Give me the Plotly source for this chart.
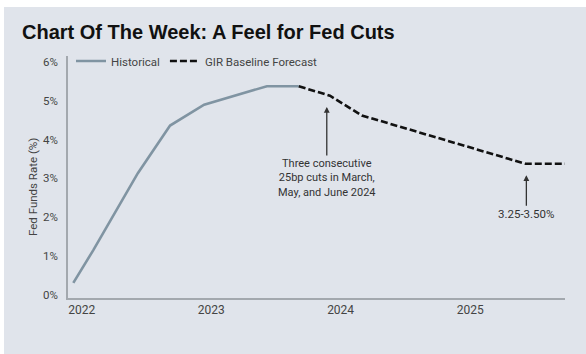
import plotly.graph_objects as go

# Data (midpoint of target range, %)
hist_dates = ["2021-12-08", "2022-02-02", "2022-06-08", "2022-09-07",
              "2022-12-12", "2023-06-07", "2023-09-05"]
hist_rate = [0.30, 1.14, 3.13, 4.36, 4.90, 5.375, 5.375]

fcst_dates = ["2023-09-05", "2023-12-02", "2024-03-01", "2025-06-05", "2025-09-25"]
fcst_rate = [5.375, 5.13, 4.62, 3.375, 3.375]

year_ticks = ["2022-01-01", "2023-01-01", "2024-01-01", "2025-01-01"]
year_labels = ["2022", "2023", "2024", "2025"]
y_ticks = [0, 1, 2, 3, 4, 5, 6]
y_labels = ["0%", "1%", "2%", "3%", "4%", "5%", "6%"]

BG = "#e0e4eb"
W, H = 586, 354
L, R, T, B = 68, 21, 56, 56
pw, ph = W - L - R, H - T - B

def px_x(p):
    return (p - L) / pw

def px_y(p):
    return (H - B - p) / ph

font_txt = "Roboto, Open Sans, sans-serif"

fig = go.Figure()
fig.add_trace(go.Scatter(x=hist_dates, y=hist_rate, mode="lines", name="Historical",
                         line=dict(color="#8094a2", width=2.6)))
fig.add_trace(go.Scatter(x=fcst_dates, y=fcst_rate, mode="lines", name="GIR Baseline Forecast",
                         line=dict(color="#111111", width=2.6, dash="7px,3px")))

fig.update_layout(
    width=W, height=H,
    margin=dict(l=L, r=R, t=T, b=B),
    paper_bgcolor=BG,
    plot_bgcolor=BG,
    title=dict(text="<b>Chart Of The Week: A Feel for Fed Cuts</b>",
               xref="container", yref="container", x=22 / W, xanchor="left",
               y=1 - 32 / H, yanchor="middle",
               font=dict(family="Liberation Sans, Arial, sans-serif", size=20, color="#111111")),
    legend=dict(orientation="h", x=px_x(71), xanchor="left", y=px_y(61), yanchor="middle",
                bgcolor="rgba(0,0,0,0)", font=dict(family=font_txt, size=11.5, color="#444444"),
                itemwidth=30, tracegroupgap=0),
    showlegend=True,
    xaxis=dict(type="date", range=["2021-11-23", "2025-09-25"],
               tickvals=year_ticks, ticktext=year_labels, showgrid=False, zeroline=False,
               showline=True, linecolor="#a3a8ae", linewidth=1.5, ticks="",
               tickfont=dict(family=font_txt, size=12, color="#444444")),
    yaxis=dict(range=[-0.09, 6.155], tickvals=y_ticks, ticktext=y_labels,
               showgrid=False, zeroline=False, showline=True, linecolor="#a3a8ae",
               linewidth=1.5, ticks="", ticklabelstandoff=6,
               tickfont=dict(family=font_txt, size=11.5, color="#444444")),
    shapes=[
        dict(type="rect", xref="paper", yref="paper", layer="below",
             x0=px_x(-5), x1=px_x(W + 5), y0=px_y(7), y1=px_y(-5),
             fillcolor="white", line=dict(width=0)),
        dict(type="rect", xref="paper", yref="paper", layer="below",
             x0=px_x(-5), x1=px_x(4), y0=px_y(H + 5), y1=px_y(-5),
             fillcolor="white", line=dict(width=0)),
    ],
    annotations=[
        dict(text="Fed Funds Rate (%)", textangle=-90, xref="paper", yref="paper",
             x=px_x(33), y=px_y(187), xanchor="center", yanchor="middle", showarrow=False,
             font=dict(family=font_txt, size=11.5, color="#444444")),
        dict(text="Three consecutive<br>25bp cuts in March,<br>May, and June 2024",
             x="2023-11-23", y=4.84, xref="x", yref="y", showarrow=True,
             ax=0, ay=71, arrowhead=2, arrowsize=0.9, arrowwidth=1.3, arrowcolor="#333333",
             font=dict(family=font_txt, size=11, color="#333333"), align="center"),
        dict(text="3.25-3.50%", x="2025-06-08", y=3.08, xref="x", yref="y", showarrow=True,
             ax=0, ay=39, arrowhead=2, arrowsize=0.9, arrowwidth=1.3, arrowcolor="#333333",
             font=dict(family=font_txt, size=11.5, color="#333333")),
    ],
)

fig.write_html("out.html", config={"displayModeBar": False},
               post_script="document.body.style.margin='0';document.body.style.overflow='hidden';"
                           "document.body.style.background='" + BG + "';")
